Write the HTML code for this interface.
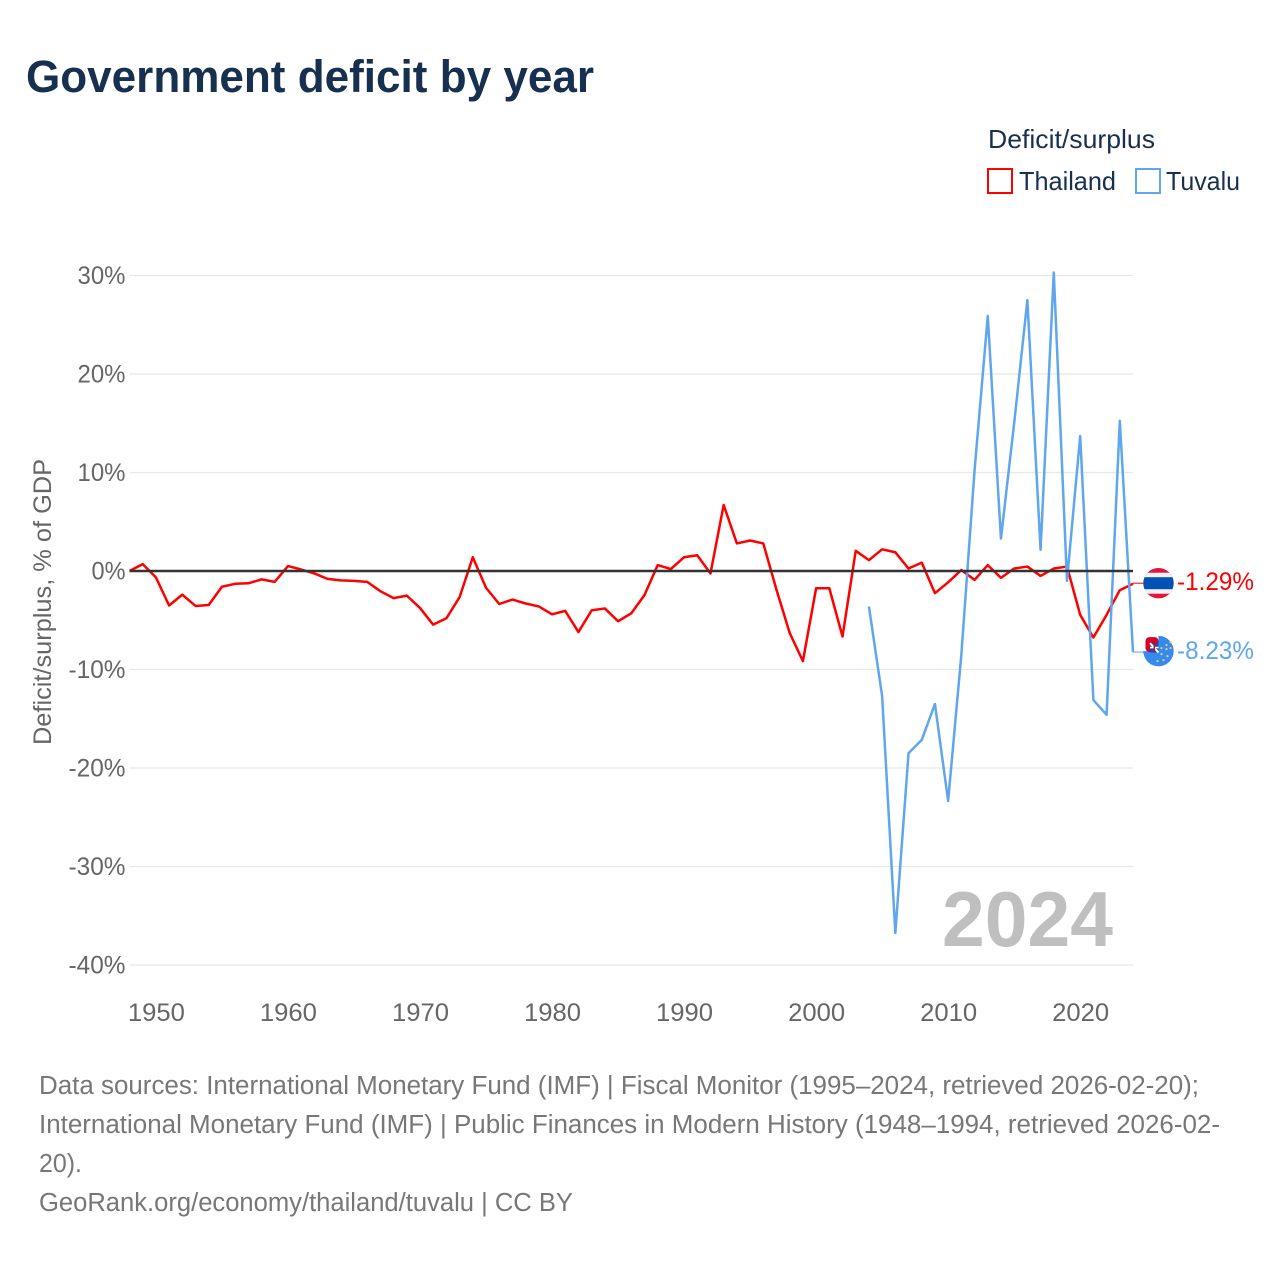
<!DOCTYPE html>
<html lang="en">
<head>
<meta charset="utf-8">
<title>Government deficit by year</title>
<style>
html,body{margin:0;padding:0;background:#fff;width:1280px;height:1280px;overflow:hidden}
svg{display:block;font-family:"Liberation Sans",sans-serif}
</style>
</head>
<body>
<svg id="chart" xmlns="http://www.w3.org/2000/svg" width="1280" height="1280" viewBox="0 0 1280 1280">
  <rect x="0" y="0" width="1280" height="1280" fill="#fff"/>
  <text x="26" y="92" font-size="45" font-weight="700" fill="#18304f" textLength="568" lengthAdjust="spacingAndGlyphs">Government deficit by year</text>

  <g>
    <text x="988" y="148" font-size="26" fill="#18304f" textLength="167" lengthAdjust="spacingAndGlyphs">Deficit/surplus</text>
    <g>
      <rect x="988" y="169" width="24" height="24" fill="#fff" stroke="#ff0000" stroke-width="2"/>
      <text x="1019" y="190" font-size="26" fill="#18304f" textLength="97" lengthAdjust="spacingAndGlyphs">Thailand</text>
    </g>
    <g>
      <rect x="1136" y="169" width="24" height="24" fill="#fff" stroke="#5fa6ee" stroke-width="2"/>
      <text x="1166" y="190" font-size="26" fill="#18304f" textLength="74" lengthAdjust="spacingAndGlyphs">Tuvalu</text>
    </g>
  </g>

  <text transform="translate(51,745) rotate(-90)" x="0" y="0" font-size="25" fill="#666" textLength="286" lengthAdjust="spacingAndGlyphs">Deficit/surplus, % of GDP</text>

  <g id="grid"></g>
  <g id="yticks"></g>
  <g id="xticks"></g>

  <text x="942" y="946" font-size="78" font-weight="700" fill="#bfbfbf" textLength="171" lengthAdjust="spacingAndGlyphs">2024</text>

  <g id="series"></g>
  <g id="zero"></g>
  <g id="ends"></g>

  <g font-size="25.5" fill="#777">
    <text x="39" y="1094" textLength="1160" lengthAdjust="spacingAndGlyphs">Data sources: International Monetary Fund (IMF) | Fiscal Monitor (1995–2024, retrieved 2026-02-20);</text>
    <text x="39" y="1133" textLength="1181" lengthAdjust="spacingAndGlyphs">International Monetary Fund (IMF) | Public Finances in Modern History (1948–1994, retrieved 2026-02-</text>
    <text x="39" y="1172" textLength="43" lengthAdjust="spacingAndGlyphs">20).</text>
    <text x="39" y="1211" textLength="534" lengthAdjust="spacingAndGlyphs">GeoRank.org/economy/thailand/tuvalu | CC BY</text>
  </g>
</svg>

<script>
const thailandStartYear = 1948;
const thailandValues = [0,0.7,-0.65,-3.5,-2.4,-3.55,-3.45,-1.6,-1.3,-1.25,-0.85,-1.1,0.5,0.15,-0.25,-0.8,-0.95,-1.0,-1.1,-2.05,-2.75,-2.5,-3.75,-5.45,-4.8,-2.65,1.4,-1.7,-3.35,-2.9,-3.3,-3.6,-4.4,-4.05,-6.2,-4.0,-3.8,-5.1,-4.3,-2.45,0.6,0.2,1.4,1.6,-0.25,6.7,2.8,3.1,2.8,-1.9,-6.3,-9.15,-1.75,-1.75,-6.65,2.05,1.1,2.2,1.9,0.25,0.85,-2.25,-1.15,0.1,-0.9,0.6,-0.7,0.25,0.45,-0.5,0.25,0.45,-4.45,-6.75,-4.45,-1.95,-1.29];
const tuvaluStartYear = 2004;
const tuvaluValues = [-3.6,-12.7,-36.75,-18.5,-17.15,-13.5,-23.35,-8.5,10.2,25.9,3.3,15,27.5,2.15,30.3,-1.0,13.7,-13.1,-14.6,15.25,-8.23];
const yTickValues = [30,20,10,0,-10,-20,-30,-40];
const yTickLabels = ["30%","20%","10%","0%","-10%","-20%","-30%","-40%"];
const xTickYears = [1950,1960,1970,1980,1990,2000,2010,2020];
const xTickLabels = ["1950","1960","1970","1980","1990","2000","2010","2020"];
const endValues = [-1.29,-8.23];
const endLabels = ["-1.29%","-8.23%"];

const NS = "http://www.w3.org/2000/svg";
function xScale(year){ return 129.5 + (year - 1948) * (1133 - 129.5) / 76; }
function yScale(v){ return 571 - v * 9.85; }
function make(tag, attrs, parent, text){
  const el = document.createElementNS(NS, tag);
  for (const k in attrs) el.setAttribute(k, attrs[k]);
  if (text !== undefined) el.textContent = text;
  parent.appendChild(el);
  return el;
}
function pointsFor(start, values){
  return values.map(function(v, i){ return xScale(start + i).toFixed(2) + "," + yScale(v).toFixed(2); }).join(" ");
}

const grid = document.getElementById("grid");
const yticks = document.getElementById("yticks");
const xticks = document.getElementById("xticks");
const series = document.getElementById("series");
const zero = document.getElementById("zero");
const ends = document.getElementById("ends");

yTickValues.forEach(function(v, i){
  if (v !== 0) {
    const line = make("line", {x1:129.5, x2:1133, y1:yScale(v), y2:yScale(v), stroke:"#e8e8e8", "stroke-width":1.2}, grid);
    
    
  }
  const labelWidth = v < 0 ? 57 : (v === 0 ? 34 : 48);
  const label = make("text", {x:125.5, y:yScale(v)+8.5, "text-anchor":"end", "font-size":25, fill:"#666", textLength:labelWidth, lengthAdjust:"spacingAndGlyphs"}, yticks, yTickLabels[i]);
  
  
});

xTickYears.forEach(function(y, i){
  const label = make("text", {x:xScale(y)+0.5, y:1021, "text-anchor":"middle", "font-size":25, fill:"#666", textLength:57, lengthAdjust:"spacingAndGlyphs"}, xticks, xTickLabels[i]);
  
  
});

const thaiLine = make("polyline", {points:pointsFor(thailandStartYear, thailandValues), fill:"none", stroke:"#ff0000", "stroke-width":2.5, "stroke-linejoin":"round"}, series);



const tuvaluLine = make("polyline", {points:pointsFor(tuvaluStartYear, tuvaluValues), fill:"none", stroke:"#5fa6ee", "stroke-width":2.5, "stroke-linejoin":"round"}, series);



const zeroLine = make("line", {x1:129.5, x2:1133, y1:yScale(0), y2:yScale(0), stroke:"#333", "stroke-width":2.4}, zero);



/* connectors from series ends to flags */
const thaiY = yScale(endValues[0]);
const tuvY = yScale(endValues[1]);
const c1 = make("line", {x1:1133, x2:1144, y1:thaiY-0.5, y2:thaiY-0.5, stroke:"#ff0000", "stroke-width":1}, ends);


const c2 = make("line", {x1:1133, x2:1144, y1:tuvY, y2:tuvY, stroke:"#5fa6ee", "stroke-width":1}, ends);



/* Thailand flag, anchored to the end value */
const fx = 1158.5;
const fy1 = thaiY - 0.5;
const thaiFlag = make("g", {}, ends);


const cp1 = make("clipPath", {id:"clipThai"}, thaiFlag);
make("circle", {cx:fx, cy:fy1, r:15.2}, cp1);
const thaiBody = make("g", {"clip-path":"url(#clipThai)"}, thaiFlag);
make("rect", {x:fx-16, y:fy1-16, width:32, height:32, fill:"#e0143c"}, thaiBody);
make("rect", {x:fx-16, y:fy1-10.5, width:32, height:21, fill:"#f1f1f4"}, thaiBody);
make("rect", {x:fx-16, y:fy1-6, width:32, height:12, fill:"#0052b4"}, thaiBody);

/* Tuvalu flag */
const fy2 = tuvY - 1;
const tuvFlag = make("g", {}, ends);


make("path", {d:"M"+fx+" "+(fy2-15.2)+" A15.2 15.2 0 1 1 "+(fx-15.2)+" "+fy2+" L"+fx+" "+fy2+" Z", fill:"#338af3"}, tuvFlag);
make("rect", {x:fx-13, y:fy2-14, width:13, height:15, rx:4, fill:"#d80027"}, tuvFlag);
make("rect", {x:fx-8.5, y:fy2-8, width:8.5, height:9.5, fill:"#1f4fa0"}, tuvFlag);
make("path", {d:"M"+(fx-8.5)+" "+(fy2-8)+" L"+fx+" "+(fy2+1.5), stroke:"#fff", "stroke-width":2}, tuvFlag);
make("path", {d:"M"+(fx-8.5)+" "+(fy2-3.5)+" H"+fx, stroke:"#fff", "stroke-width":1.6}, tuvFlag);
make("path", {d:"M"+(fx-4.2)+" "+(fy2-8)+" V"+(fy2+1.5), stroke:"#d80027", "stroke-width":1.4}, tuvFlag);
const starOffsets = [[12,-9],[8,-6],[3,-3],[8,-2],[12,-3],[3,3],[9,5],[5,9],[-1,10]];
starOffsets.forEach(function(o){
  make("circle", {cx:fx+o[0], cy:fy2+o[1], r:1.1, fill:"#f2d04a"}, tuvFlag);
});

endLabels.forEach(function(txt, i){
  const colors = ["#ff0000", "#5fa6ee"];
  const label = make("text", {x:1177, y:yScale(endValues[i])+ (i===0 ? 6.2 : 7), "font-size":25, fill:colors[i], textLength:77, lengthAdjust:"spacingAndGlyphs"}, ends, txt);
  
  
});
</script>
</body>
</html>
